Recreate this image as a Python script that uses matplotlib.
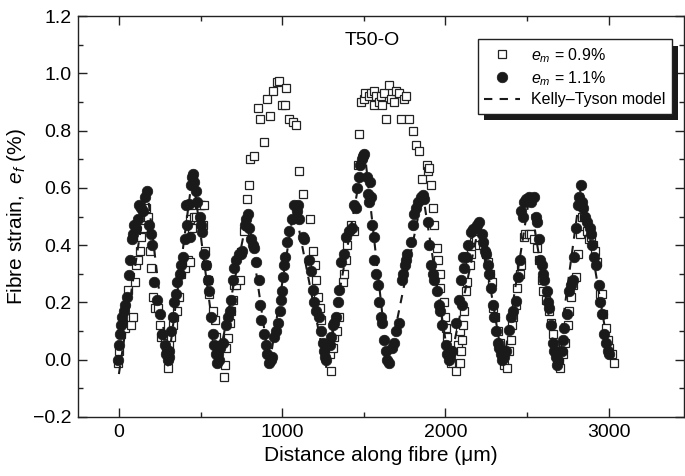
import matplotlib
matplotlib.use("Agg")
import matplotlib.pyplot as plt
from matplotlib.patches import Rectangle
from matplotlib.transforms import IdentityTransform
from matplotlib.ticker import MultipleLocator

plt.rcParams['font.family'] = ['Liberation Sans', 'DejaVu Sans']
plt.rcParams['mathtext.fontset'] = 'custom'
plt.rcParams['mathtext.rm'] = 'Liberation Sans'
plt.rcParams['mathtext.it'] = 'Liberation Sans:italic'

# e_m = 1.1 %  (filled circles)
x_11 = [-6, 2, 6, 12, 20, 30, 40, 47, 60, 70, 78, 85, 90, 105, 115, 125, 138, 150, 160, 174,
        184, 194, 202, 213, 233, 249, 265, 280, 290, 298, 305, 310,
        320, 330, 338, 348, 358, 372, 382, 395, 402, 412, 420, 427, 433, 440, 447, 453, 462, 470, 480, 494, 500, 510,
        524, 535, 545, 555, 565, 575, 585, 592, 600, 608, 615, 622,
        640, 657, 668, 678, 688, 698, 708, 718, 735, 750, 757, 770, 780, 790,
        800, 810, 820, 830, 841, 857, 865, 871, 886, 900, 910, 920, 930, 940,
        953, 965, 972, 985, 994, 1000, 1004, 1010, 1015, 1030, 1040, 1058, 1075, 1090, 1100, 1105,
        1125, 1135, 1167, 1178, 1188, 1198, 1210, 1228, 1240, 1248, 1255, 1262, 1270,
        1295, 1300, 1310, 1320, 1330, 1340, 1351, 1361, 1380, 1392, 1410, 1430, 1443, 1453, 1460, 1470, 1480, 1492, 1498, 1504,
        1520, 1525, 1530, 1540, 1545, 1552, 1560, 1565, 1578, 1585, 1595, 1605, 1615, 1627, 1635, 1645, 1655,
        1675, 1687, 1700, 1717, 1737, 1742, 1750, 1758, 1767, 1790, 1800, 1810, 1820, 1835, 1853, 1861, 1870,
        1891, 1902, 1915, 1925, 1932, 1952, 1960, 1968, 1980, 2005, 2012, 2020, 2030, 2040,
        2066, 2086, 2096, 2100, 2106, 2116, 2128, 2140, 2160, 2170, 2185, 2195, 2209,
        2225, 2230, 2245, 2250, 2262, 2270, 2280, 2290, 2300, 2310, 2320, 2330, 2340, 2350, 2360, 2370,
        2391, 2405, 2415, 2432, 2443, 2455, 2464, 2474, 2482, 2495, 2510, 2525, 2545, 2556,
        2560, 2575, 2580, 2590, 2598, 2605, 2620, 2628, 2635, 2647, 2660, 2668, 2675, 2685, 2690,
        2717, 2723, 2730, 2748, 2760, 2770, 2780, 2790, 2800, 2810, 2818, 2830, 2838,
        2845, 2855, 2870, 2885, 2895, 2900, 2910, 2925, 2943, 2950, 2960, 2975, 2985, 2995, 3005]
y_11 = [0.00, 0.05, 0.09, 0.12, 0.15, 0.17, 0.19, 0.22, 0.295, 0.35, 0.42, 0.44, 0.47, 0.46, 0.49, 0.54, 0.53, 0.52, 0.57, 0.59,
        0.47, 0.44, 0.40, 0.27, 0.21, 0.16, 0.09, 0.05, 0.02, 0.00, 0.03, 0.01,
        0.10, 0.15, 0.20, 0.23, 0.27, 0.30, 0.33, 0.36, 0.42, 0.54, 0.47, 0.545, 0.43, 0.61, 0.64, 0.65, 0.62, 0.59, 0.55, 0.50, 0.47, 0.445,
        0.37, 0.33, 0.28, 0.24, 0.15, 0.09, 0.05, 0.02, -0.01, 0.02, 0.00, 0.04,
        0.06, 0.12, 0.15, 0.17, 0.21, 0.28, 0.32, 0.35, 0.37, 0.37, 0.38, 0.47, 0.49, 0.51,
        0.46, 0.42, 0.40, 0.39, 0.34, 0.28, 0.19, 0.14, 0.09, 0.05, 0.02, -0.01, 0.00, 0.01,
        0.08, 0.10, 0.13, 0.17, 0.21, 0.24, 0.29, 0.33, 0.36, 0.41, 0.45, 0.49, 0.54, 0.52, 0.54, 0.49,
        0.43, 0.42, 0.35, 0.31, 0.245, 0.20, 0.17, 0.15, 0.10, 0.06, 0.03, 0.01, 0.00,
        0.05, 0.08, 0.12, 0.13, 0.15, 0.20, 0.245, 0.34, 0.37, 0.43, 0.45, 0.46, 0.54, 0.53, 0.60, 0.64, 0.68, 0.70, 0.71, 0.72,
        0.64, 0.58, 0.55, 0.62, 0.57, 0.47, 0.43, 0.35, 0.30, 0.26, 0.20, 0.15, 0.13, 0.07, 0.03, 0.00, -0.01,
        0.04, 0.06, 0.10, 0.13, 0.28, 0.30, 0.33, 0.35, 0.37, 0.41, 0.47, 0.51, 0.53, 0.55, 0.57, 0.575, 0.56,
        0.48, 0.40, 0.33, 0.30, 0.28, 0.24, 0.19, 0.17, 0.12, 0.05, 0.02, 0.00, 0.01, 0.03,
        0.13, 0.21, 0.28, 0.19, 0.36, 0.32, 0.36, 0.40, 0.445, 0.455, 0.46, 0.47, 0.48,
        0.44, 0.41, 0.38, 0.37, 0.33, 0.30, 0.25, 0.19, 0.15, 0.10, 0.06, 0.04, 0.02, 0.00, 0.01, 0.03,
        0.105, 0.15, 0.17, 0.205, 0.29, 0.35, 0.52, 0.50, 0.55, 0.56, 0.57, 0.55, 0.57, 0.50,
        0.48, 0.42, 0.35, 0.33, 0.30, 0.28, 0.24, 0.20, 0.18, 0.12, 0.06, 0.03, 0.01, -0.02, 0.00,
        0.03, 0.07, 0.11, 0.16, 0.24, 0.26, 0.28, 0.36, 0.46, 0.54, 0.57, 0.61, 0.55,
        0.53, 0.50, 0.48, 0.46, 0.44, 0.40, 0.36, 0.33, 0.26, 0.20, 0.16, 0.09, 0.06, 0.03, 0.02]

# e_m = 0.9 %  (open squares)
x_09 = [-3, 3, 15, 25, 35, 56, 76, 86, 100, 106, 118, 127, 137, 150, 155, 165, 178,
        188, 198, 208, 219, 237, 249, 259, 280, 290, 300,
        310, 320, 330, 340, 355, 367, 382, 402, 422, 433, 433, 443, 450, 460, 474, 494, 504, 514, 520,
        525, 535, 545, 555, 575, 586, 597, 647, 650, 657, 667,
        680, 688, 698, 708, 718, 739, 750, 765, 786, 796, 806, 825, 851, 865, 886, 908, 928, 947, 967, 983, 1000, 1015, 1024,
        1045, 1065, 1087, 1106, 1127, 1168, 1188, 1200, 1210, 1220, 1230, 1240, 1280, 1295, 1310, 1300, 1320,
        1335, 1350, 1370, 1380, 1392, 1400, 1420, 1440, 1463, 1473, 1484, 1504, 1510, 1530, 1545, 1560, 1565, 1575,
        1595, 1605, 1614, 1625, 1637, 1655, 1670, 1685, 1700, 1715, 1730, 1745, 1760, 1780, 1800, 1823, 1840,
        1860, 1885, 1895, 1902, 1915, 1922, 1930, 1952, 1958, 1965, 1970, 1993, 2000, 2005, 2010, 2036, 2066, 2080, 2090,
        2087, 2095, 2102, 2108, 2115, 2125, 2135, 2150, 2160, 2175, 2190, 2208, 2230, 2250, 2260, 2275, 2285, 2295,
        2305, 2320, 2335, 2345, 2360, 2380,
        2390, 2400, 2407, 2415, 2430, 2440, 2455, 2465, 2480, 2490, 2510, 2525, 2545, 2560, 2575, 2590, 2600, 2615,
        2637, 2650, 2660, 2672, 2685, 2695, 2705,
        2720, 2735, 2750, 2760, 2770, 2785, 2800, 2812, 2825, 2840, 2852, 2865, 2880, 2890, 2905, 2920, 2930, 2950,
        2960, 2968, 2985, 2995, 3005, 3020, 3035]
y_09 = [-0.01, 0.03, 0.09, 0.12, 0.11, 0.245, 0.12, 0.15, 0.27, 0.33, 0.35, 0.38, 0.43, 0.46, 0.50, 0.53, 0.50,
        0.38, 0.32, 0.22, 0.18, 0.18, 0.12, 0.08, 0.06, 0.03, -0.03,
        0.05, 0.08, 0.12, 0.15, 0.17, 0.22, 0.30, 0.32, 0.35, 0.49, 0.34, 0.54, 0.46, 0.50, 0.50, 0.54, 0.54, 0.47, 0.54,
        0.38, 0.33, 0.28, 0.23, 0.17, 0.14, 0.08, -0.06, -0.02, 0.04, 0.075,
        0.13, 0.17, 0.21, 0.26, 0.26, 0.28, 0.375, 0.45, 0.56, 0.61, 0.70, 0.71, 0.88, 0.84, 0.76, 0.91, 0.85, 0.94, 0.97, 0.975, 0.89, 0.89, 0.95,
        0.84, 0.83, 0.82, 0.66, 0.58, 0.49, 0.38, 0.33, 0.28, 0.22, 0.18, 0.14, 0.06, 0.02, 0.04, -0.04, 0.08,
        0.10, 0.15, 0.27, 0.30, 0.35, 0.40, 0.47, 0.45, 0.68, 0.79, 0.90, 0.91, 0.93, 0.92, 0.93, 0.89, 0.94, 0.92,
        0.90, 0.92, 0.89, 0.93, 0.84, 0.96, 0.91, 0.90, 0.94, 0.93, 0.84, 0.91, 0.92, 0.84, 0.80, 0.75, 0.73,
        0.63, 0.68, 0.66, 0.67, 0.61, 0.53, 0.47, 0.39, 0.35, 0.30, 0.25, 0.20, 0.15, 0.11, 0.08, -0.01, -0.04, 0.05, 0.10,
        -0.01, 0.03, 0.07, 0.12, 0.17, 0.24, 0.27, 0.33, 0.37, 0.41, 0.42, 0.40, 0.40, 0.37, 0.34, 0.30, 0.27, 0.18,
        0.15, 0.10, 0.06, 0.02, -0.02, -0.03,
        0.03, 0.07, 0.12, 0.15, 0.19, 0.25, 0.30, 0.33, 0.43, 0.44, 0.44, 0.44, 0.42, 0.39, 0.35, 0.28, 0.24, 0.21,
        0.17, 0.13, 0.09, 0.05, 0.03, 0.00, -0.03,
        0.02, 0.06, 0.12, 0.17, 0.22, 0.26, 0.29, 0.37, 0.44, 0.50, 0.50, 0.45, 0.42, 0.43, 0.40, 0.38, 0.34, 0.23,
        0.23, 0.16, 0.11, 0.07, 0.04, 0.02, -0.01]

# Kelly-Tyson model: linear build-up of fibre strain in each fragment
kt_x = [0, 172, 300, 452, 605, 790, 922, 1075, 1268, 1505, 1648, 1862, 2025, 2210, 2355, 2515, 2683, 2832, 3010]
kt_y = [-0.05, 0.60, -0.02, 0.65, -0.02, 0.51, -0.02, 0.54, -0.03, 0.73, -0.02, 0.58, -0.02, 0.48, -0.02, 0.57,
        -0.02, 0.61, 0.00]

fig = plt.figure(figsize=(6.85, 4.76), dpi=100)
ax = fig.add_axes([0.114, 0.124, 0.884, 0.842])

ink = '#1a1a1a'
ax.plot(x_09, y_09, linestyle='none', marker='s', markersize=5.3, markerfacecolor='white',
        markeredgecolor='#222222', markeredgewidth=0.9, zorder=2, label=r'$e_m$ = 0.9%')
ax.plot(x_11, y_11, linestyle='none', marker='o', markersize=7.6, markerfacecolor=ink,
        markeredgecolor=ink, markeredgewidth=0.5, zorder=3, label=r'$e_m$ = 1.1%')
ax.plot(kt_x, kt_y, color=ink, linestyle=(0, (4, 3.5)), linewidth=1.5, zorder=4,
        label='Kelly\u2013Tyson model')

ax.set_xlim(-250, 3460)
ax.set_ylim(-0.2, 1.2)
ax.xaxis.set_major_locator(MultipleLocator(1000))
ax.xaxis.set_minor_locator(MultipleLocator(500))
ax.yaxis.set_minor_locator(MultipleLocator(0.1))
ax.set_yticks([-0.2, 0.0, 0.2, 0.4, 0.6, 0.8, 1.0, 1.2])
ax.set_yticklabels(['\u22120.2', '0.0', '0.2', '0.4', '0.6', '0.8', '1.0', '1.2'])
ax.tick_params(which='both', direction='in', top=True, right=True, labelsize=14, color='#222222', pad=5)
ax.tick_params(which='major', length=6.5, width=1.0)
ax.tick_params(which='minor', length=3.5, width=1.0)
for s in ax.spines.values():
    s.set_linewidth(1.0)
    s.set_color('#222222')

ax.set_xlabel('Distance along fibre (\u03bcm)', fontsize=15, labelpad=4)
ax.set_ylabel(r'Fibre strain,  $e_f$ (%)', fontsize=15, labelpad=3)
ax.text(0.485, 0.94, 'T50-O', transform=ax.transAxes, ha='center', va='center', fontsize=14)

leg = ax.legend(loc='upper right', bbox_to_anchor=(0.980, 0.942), borderaxespad=0, fontsize=11.5,
                frameon=True, fancybox=False, framealpha=1, edgecolor='#222222',
                handlelength=2.2, handletextpad=0.7, labelspacing=0.28, borderpad=0.4)
leg.get_frame().set_linewidth(1.0)
leg.set_zorder(6)

fig.canvas.draw()
bb = leg.get_window_extent()
shadow = Rectangle((bb.x0 + 6, bb.y0 - 6.5), bb.width, bb.height, transform=IdentityTransform(),
                   facecolor=ink, edgecolor='none', zorder=5.5, clip_on=False)
ax.add_artist(shadow)

fig.savefig('out.png', dpi=100)
